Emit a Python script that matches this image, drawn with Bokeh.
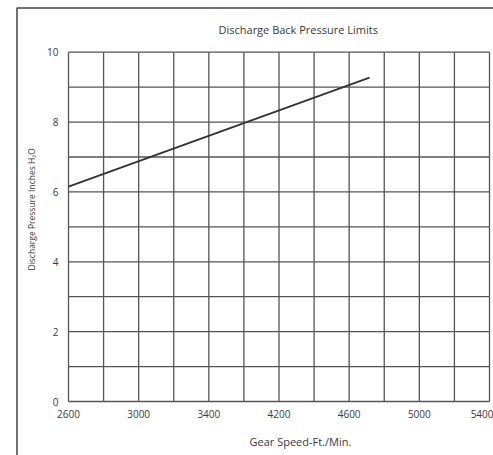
import math
from bokeh.plotting import figure
from bokeh.models import FixedTicker, LinearAxis, Label
from bokeh.embed import file_html
from bokeh.resources import INLINE

# ---- data ----
speed = [2600, 4316]          # Gear speed, ft/min (grid: 200 per column)
pressure = [6.15, 9.27]       # Discharge pressure, inches H2O
x_ticks = [2600, 3000, 3400, 3800, 4200, 4600, 5000]
x_tick_labels = ["2600", "3000", "3400", "4200", "4600", "5000", "5400"]
x_grid = [2600, 2800, 3000, 3200, 3400, 3600, 3800, 4000, 4200, 4400, 4600, 4800, 5000]
y_ticks = [0, 2, 4, 6, 8, 10]
y_grid = [0, 1, 2, 3, 4, 5, 6, 7, 8, 9, 10]
title_text = "Discharge Back Pressure Limits"
x_label = "Gear Speed-Ft./Min."
y_label = "Discharge Pressure Inches H\u2082O"

# ---- layout (pixels) ----
W, H = 493, 455
FL, FR, FT, FB = 68, 489, 51.7, 401     # chart grid box on the page
x_min, x_max = x_grid[0], x_grid[-1]
y_min, y_max = y_grid[0], y_grid[-1]
ux = (x_max - x_min) / (FR - FL)
uy = (y_max - y_min) / (FB - FT)


def X(px):
    return x_min + (px - FL) * ux


def Y(py):
    return y_max - (py - FT) * uy


FONT = "Open Sans"
INK = "#3a3a3a"
GRID = "#555555"

p = figure(width=W, height=H, x_range=(X(0), X(W)), y_range=(Y(H), Y(0)),
           output_backend="svg", toolbar_location=None,
           x_axis_location=None, y_axis_location=None,
           min_border=0)
p.xgrid.visible = False
p.ygrid.visible = False
p.outline_line_color = None
p.background_fill_color = "white"
p.border_fill_color = "white"

# outer page frame (left and top rules)
p.line(x=[X(W + 5), X(16.5), X(16.5)], y=[Y(7.5), Y(7.5), Y(H + 5)],
       line_color="#444444", line_width=1.5)

# chart grid
p.segment(x0=x_grid, y0=[y_min] * len(x_grid), x1=x_grid, y1=[y_max] * len(x_grid),
          line_color=GRID, line_width=1.3)
p.segment(x0=[x_min] * len(y_grid), y0=y_grid, x1=[x_max] * len(y_grid), y1=y_grid,
          line_color=GRID, line_width=1.3)

# data line
p.line(speed, pressure, line_color="#333333", line_width=1.8)

# axes pinned to the grid box
xaxis = LinearAxis(fixed_location=y_min, ticker=FixedTicker(ticks=x_ticks),
                   major_label_overrides={t: l for t, l in zip(x_ticks, x_tick_labels)})
yaxis = LinearAxis(fixed_location=x_min, ticker=FixedTicker(ticks=y_ticks))
for ax in (xaxis, yaxis):
    ax.axis_line_color = None
    ax.major_tick_line_color = None
    ax.minor_tick_line_color = None
    ax.major_tick_out = 0
    ax.major_tick_in = 0
    ax.major_label_text_font = FONT
    ax.major_label_text_font_size = "10px"
    ax.major_label_text_color = INK
xaxis.major_label_standoff = 8
yaxis.major_label_standoff = 10
p.add_layout(xaxis, "below")
p.add_layout(yaxis, "left")

# titles
p.add_layout(Label(x=X(218), y=Y(29), text=title_text, text_align="left",
                   text_baseline="middle", text_font=FONT, text_font_size="11px",
                   text_color=INK))
p.add_layout(Label(x=X(249), y=Y(441), text=x_label, text_align="left",
                   text_baseline="middle", text_font=FONT, text_font_size="11px",
                   text_color=INK))
p.add_layout(Label(x=X(31), y=Y(270), text=y_label, text_align="left",
                   text_baseline="middle", angle=math.pi / 2, text_font=FONT,
                   text_font_size="8.5px", text_color=INK))

open("out.html", "w").write(file_html(p, INLINE))
